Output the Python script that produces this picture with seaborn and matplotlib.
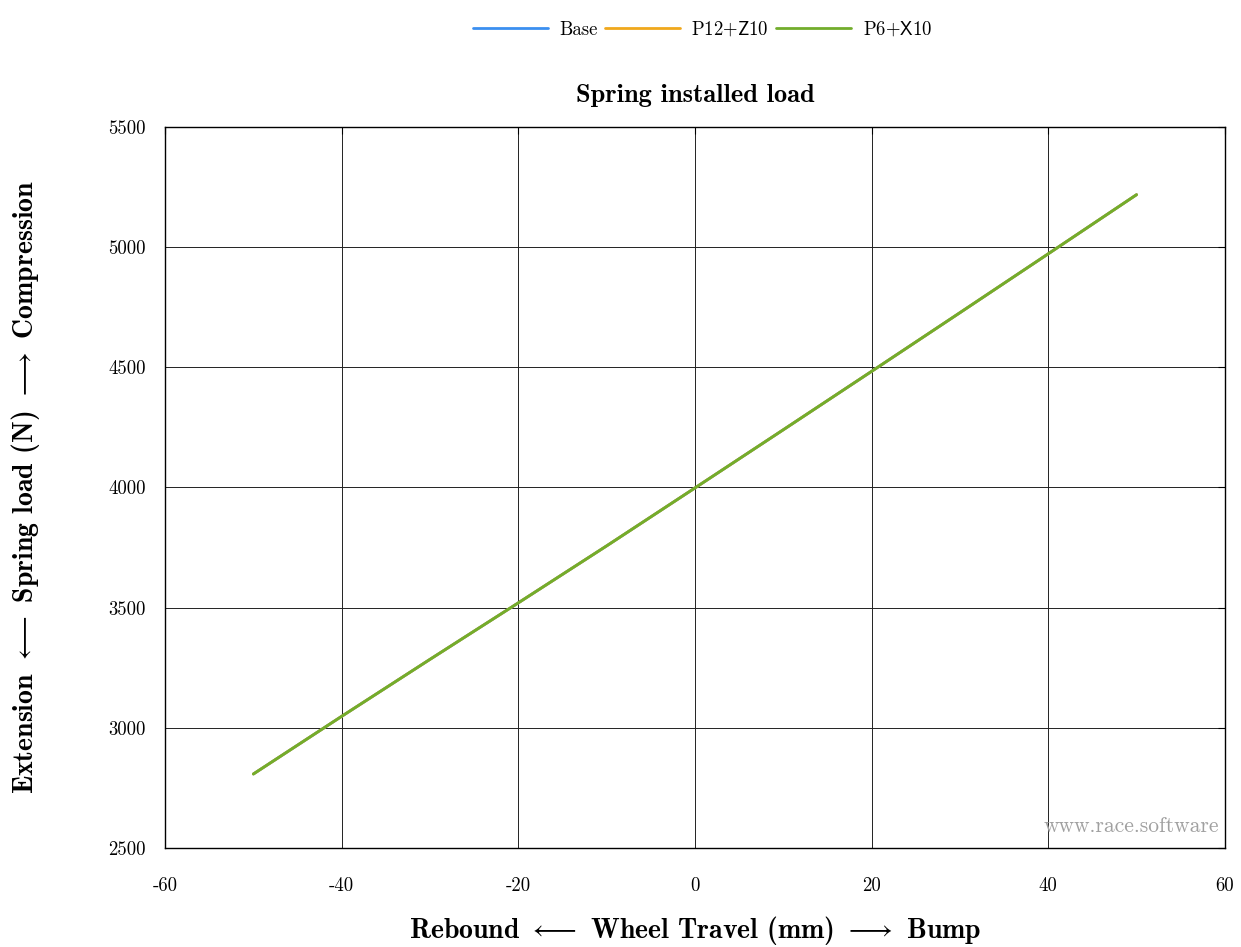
import numpy as np
import pandas as pd
import matplotlib
matplotlib.use("Agg")
import matplotlib.pyplot as plt
import seaborn as sns

# Wheel travel (mm) and spring installed load (N) per setup
travel = [-50, -40, -30, -20, -10, 0, 10, 20, 30, 40, 50]
load_base = [2808, 3048, 3285, 3520, 3757, 3998, 4240, 4483, 4727, 4972, 5218]
load_p12_z10 = [2808, 3048, 3285, 3520, 3757, 3998, 4240, 4483, 4727, 4972, 5218]
load_p6_x10 = [2808, 3048, 3285, 3520, 3757, 3998, 4240, 4483, 4727, 4972, 5218]

series_names = ["Base", "P12$\\mathsf{+Z}$10", "P6$\\mathsf{+X}$10"]
series_colors = ["#3b8ff0", "#f0a81c", "#72ad2c"]

x_ticks = [-60, -40, -20, 0, 20, 40, 60]
y_ticks = [2500, 3000, 3500, 4000, 4500, 5000, 5500]

df = pd.concat([
    pd.DataFrame({"travel": travel, "load": vals, "setup": name})
    for name, vals in zip(series_names, [load_base, load_p12_z10, load_p6_x10])
])

sns.set_theme(style="white")
plt.rcParams["font.family"] = ["cmr10", "DejaVu Serif"]
plt.rcParams["mathtext.fontset"] = "cm"
plt.rcParams["axes.unicode_minus"] = False
plt.rcParams["text.color"] = "black"
plt.rcParams["axes.labelcolor"] = "black"

fig = plt.figure(figsize=(12.41, 9.47), dpi=100)
ax = fig.add_axes([0.133, 0.1045, 0.854, 0.7615])

sns.lineplot(data=df, x="travel", y="load", hue="setup",
             palette=dict(zip(series_names, series_colors)),
             linewidth=2.0, ax=ax, legend=False)

ax.set_xlim(-60, 60)
ax.set_ylim(2500, 5500)
ax.set_xticks(x_ticks)
ax.set_yticks(y_ticks)
ax.set_xticklabels([str(v) for v in x_ticks], fontsize=13.5)
ax.set_yticklabels([str(v) for v in y_ticks], fontsize=13.5)
ax.tick_params(direction="in", length=5, width=0.8, colors="black",
               top=True, right=True)
ax.tick_params(axis="x", pad=21)
ax.tick_params(axis="y", pad=14)
ax.grid(True, color="#222222", linewidth=0.7)
for s in ax.spines.values():
    s.set_color("black")
    s.set_linewidth(1.0)

ax.set_xlabel("Rebound $\\longleftarrow$ Wheel Travel (mm) $\\longrightarrow$ Bump",
              family="cmb10", fontsize=20)
ax.set_ylabel("Extension $\\longleftarrow$ Spring load (N) $\\longrightarrow$ Compression",
              family="cmb10", fontsize=20)
ax.xaxis.set_label_coords(0.5, -0.114)
ax.yaxis.set_label_coords(-0.132, 0.5)
ax.xaxis.label.set_va("center")
ax.yaxis.label.set_va("center")
ax.text(0.5, 1.043, "Spring installed load", transform=ax.transAxes,
        ha="center", va="center", family="cmb10", fontsize=19)

ax.text(0.995, 0.03, "www.race.software", transform=ax.transAxes,
        ha="right", va="center", color="#a0a0a0", fontsize=15.5)

handles = [plt.Line2D([], [], color=c, linewidth=2.0) for c in series_colors]
fig.legend(handles, series_names, loc="upper center", bbox_to_anchor=(0.566, 0.997),
           ncol=3, frameon=False, fontsize=13.5, handlelength=4.0,
           columnspacing=0.4, handletextpad=0.6)

fig.savefig("out.png", dpi=100)
